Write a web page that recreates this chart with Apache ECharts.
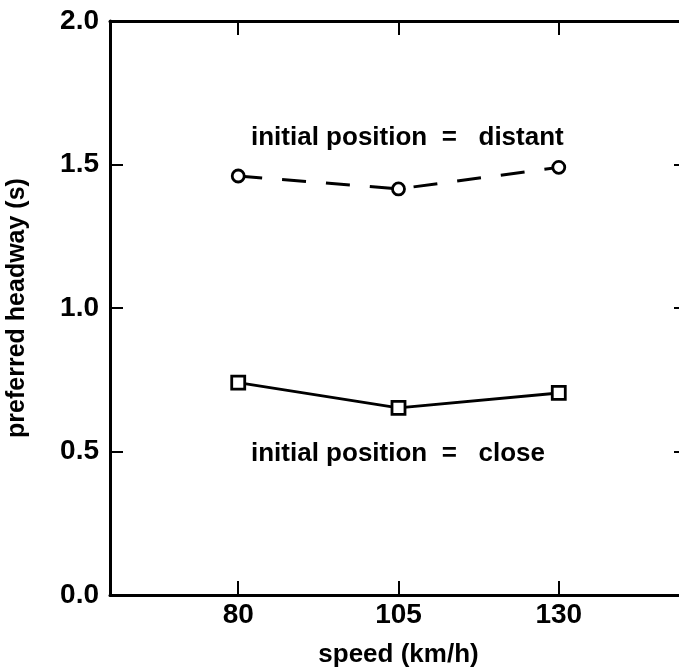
<!DOCTYPE html>
<html>
<head>
<meta charset="utf-8">
<script src="https://cdn.jsdelivr.net/npm/echarts@6/dist/echarts.min.js"></script>
<style>html,body{margin:0;padding:0;background:#fff}#c{width:679px;height:669px}</style>
</head>
<body>
<div id="c"></div>
<script>
const speeds = [80, 105, 130];
const distantValues = [1.46, 1.415, 1.49];
const closeValues = [0.74, 0.652, 0.704];
const xTickValues = [80, 105, 130];
const yTickValues = [0, 0.5, 1.0, 1.5, 2.0];
const yInnerTicks = [0.5, 1.0, 1.5];
const labelDistant = 'initial position\u00a0\u00a0=\u00a0\u00a0\u00a0distant';
const labelClose = 'initial position\u00a0\u00a0=\u00a0\u00a0\u00a0close';

const FONT = '"Liberation Sans", Arial, sans-serif';
const chart = echarts.init(document.getElementById('c'), null, {renderer: 'canvas'});
const axisLine = {show: true, onZero: false, lineStyle: {color: '#000', width: 3}};
const tickStyle = {color: '#000', width: 2};

chart.setOption({
  animation: false,
  backgroundColor: '#fff',
  grid: {left: 110, top: 21, width: 577, height: 574, containLabel: false, outerBoundsMode: 'none'},
  xAxis: [{
    type: 'value', min: 60, max: 150, position: 'bottom',
    axisLine: axisLine,
    splitLine: {show: false},
    axisTick: {show: true, inside: true, length: 14, lineStyle: tickStyle, customValues: xTickValues},
    axisLabel: {show: true, customValues: xTickValues, color: '#000', fontFamily: FONT, fontWeight: 'bold', fontSize: 28, margin: 6},
    name: 'speed (km/h)', nameLocation: 'middle', nameGap: 47,
    nameTextStyle: {color: '#000', fontFamily: FONT, fontWeight: 'bold', fontSize: 26}
  }, {
    type: 'value', min: 60, max: 150, position: 'top',
    axisLine: axisLine,
    splitLine: {show: false},
    axisTick: {show: true, inside: true, length: 14, lineStyle: tickStyle, customValues: xTickValues},
    axisLabel: {show: false}
  }],
  yAxis: [{
    type: 'value', min: 0, max: 2, position: 'left',
    axisLine: axisLine,
    splitLine: {show: false},
    axisTick: {show: true, inside: true, length: 13, lineStyle: tickStyle, customValues: yInnerTicks},
    axisLabel: {show: true, customValues: yTickValues, color: '#000', fontFamily: FONT, fontWeight: 'bold', fontSize: 28, margin: 11,
      formatter: v => v.toFixed(1)},
    name: 'preferred headway (s)', nameLocation: 'middle', nameGap: 80, nameRotate: 90,
    nameTextStyle: {color: '#000', fontFamily: FONT, fontWeight: 'bold', fontSize: 25}
  }, {
    type: 'value', min: 0, max: 2, position: 'right',
    axisLine: axisLine,
    splitLine: {show: false},
    axisTick: {show: true, inside: true, length: 13, lineStyle: tickStyle, customValues: yInnerTicks},
    axisLabel: {show: false}
  }],
  series: [{
    type: 'line',
    data: speeds.map((s, i) => [s, distantValues[i]]),
    symbol: 'circle', symbolSize: 12,
    lineStyle: {color: '#000', width: 3, type: [24, 20]},
    itemStyle: {color: '#fff', borderColor: '#000', borderWidth: 2.8}
  }, {
    type: 'line',
    data: speeds.map((s, i) => [s, closeValues[i]]),
    symbol: 'rect', symbolSize: 13,
    lineStyle: {color: '#000', width: 3},
    itemStyle: {color: '#fff', borderColor: '#000', borderWidth: 2.8}
  }],
  graphic: [{
    type: 'text', x: 251, y: 138,
    style: {text: labelDistant, fill: '#000', font: 'bold 26px ' + FONT, verticalAlign: 'middle', align: 'left'}
  }, {
    type: 'text', x: 251, y: 454,
    style: {text: labelClose, fill: '#000', font: 'bold 26px ' + FONT, verticalAlign: 'middle', align: 'left'}
  }]
});
</script>
</body>
</html>
